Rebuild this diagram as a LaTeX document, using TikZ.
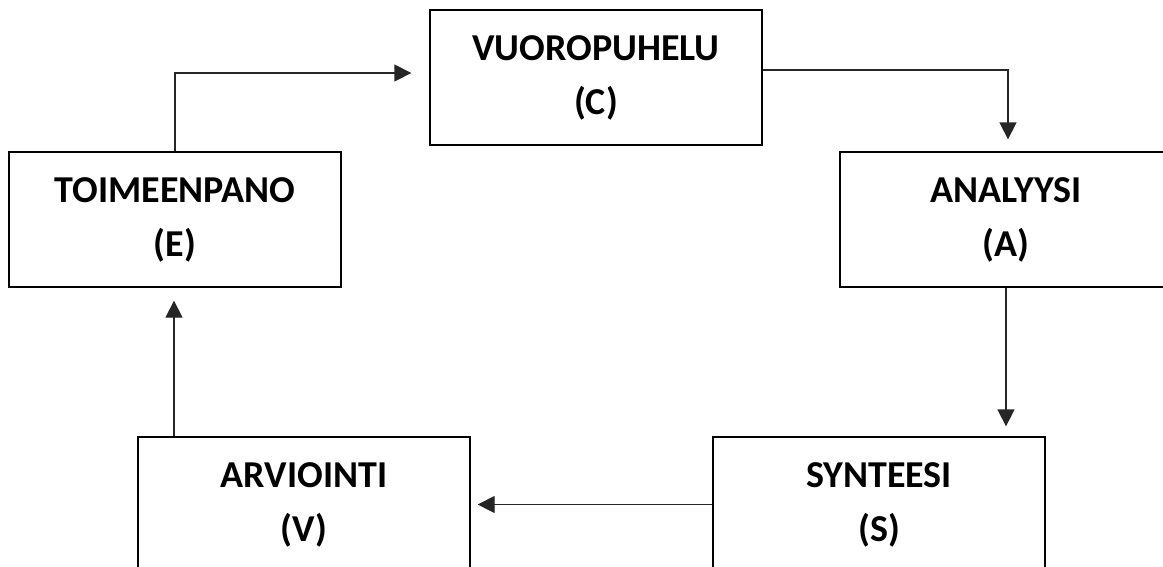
\documentclass[tikz,border=0pt]{standalone}
\usepackage{fontspec}
\setmainfont{Carlito}
\usetikzlibrary{arrows.meta}

\begin{document}
\begin{tikzpicture}[x=1pt,y=-1pt,
  phase/.style={draw,line width=1.3pt,minimum width=332pt,minimum height=135pt,align=center,
    font=\bfseries\fontsize{38}{54}\selectfont,inner sep=0pt},
  arrow/.style={-{Triangle[length=17pt,width=17pt]},line width=1.3pt,black!85}
]
\useasboundingbox (0,0) rectangle (1163,566);
\clip (0,0) rectangle (1163,566);
\node[phase] (dialog) at (596,77.5) {VUOROPUHELU\\(C)};
\node[phase] (impl) at (175,219.5) {TOIMEENPANO\\(E)};
\node[phase] (analysis) at (1006,219.5) {ANALYYSI\\(A)};
\node[phase] (eval) at (304,504.5) {ARVIOINTI\\(V)};
\node[phase] (synth) at (879,504.5) {SYNTEESI\\(S)};
\draw[arrow,shorten >=18pt] (impl.north) |- ([yshift=4.5pt]dialog.west);
\draw[arrow,shorten >=12pt] ([yshift=7.5pt]dialog.east) -| ([xshift=2pt]analysis.north);
\draw[arrow,shorten >=10pt] (analysis.south) -- (analysis.south |- synth.north);
\draw[arrow,shorten >=7pt] (synth.west) -- (synth.west -| eval.east);
\draw[arrow,shorten >=13pt] ([xshift=-1pt]impl.south |- eval.north) -- ([xshift=-1pt]impl.south);
\end{tikzpicture}
\end{document}
